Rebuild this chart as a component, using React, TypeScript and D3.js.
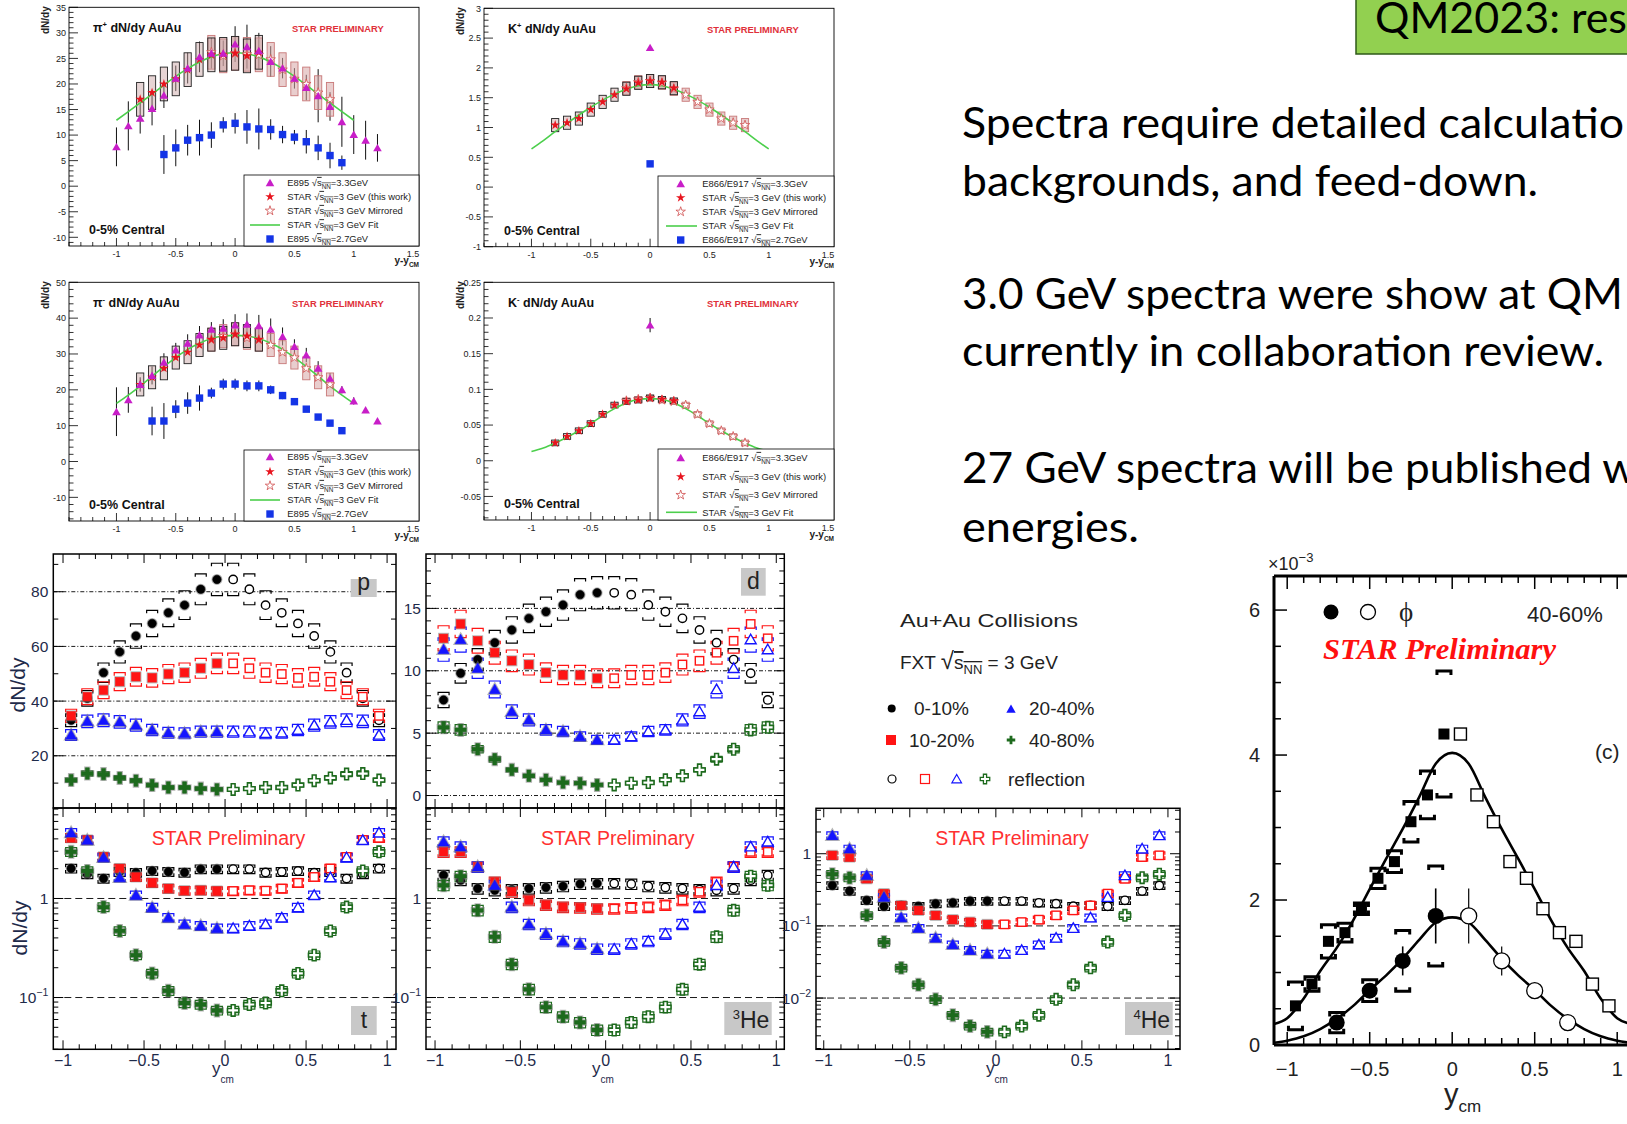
import React from "react";
import * as d3 from "d3";

const SANS = "'Liberation Sans', Arial, Helvetica, sans-serif";
const SERIF = "'Liberation Serif', 'Times New Roman', serif";
const SLIDE = "Lato, 'Open Sans', sans-serif";

// ================= top row (ROOT figures, 0-5% central) =================
const e33X = [-1.0, -0.9, -0.8, -0.7, -0.6, -0.5, -0.4, -0.3, -0.2, -0.1, 0.0, 0.1, 0.2, 0.3, 0.4, 0.5, 0.6, 0.7, 0.8, 0.9, 1.0, 1.1, 1.2];
const piPlusE895_33 = [7.7, 11.8, 13.3, 15.2, 17.8, 21.1, 23.1, 25.3, 26.0, 26.0, 27.8, 27.3, 26.5, 24.4, 23.1, 21.1, 19.3, 17.7, 15.6, 12.6, 10.1, 9.0, 7.5];
const piPlusE895_33Err = [3.8, 4.8, 3.0, 3.3, 2.5, 2.5, 3.0, 3.0, 3.0, 2.5, 3.5, 4.3, 3.5, 3.0, 2.0, 2.0, 2.5, 5.2, 2.8, 4.9, 3.8, 3.8, 2.7];
const piPlusE895_27X = [-0.6, -0.5, -0.4, -0.3, -0.2, -0.1, 0.0, 0.1, 0.2, 0.3, 0.4, 0.5, 0.6, 0.7, 0.8, 0.9];
const piPlusE895_27 = [6.2, 7.5, 9.0, 9.5, 10.0, 12.0, 12.3, 11.6, 11.2, 11.1, 10.1, 9.6, 8.7, 7.5, 6.0, 4.6];
const piPlusE895_27Err = [3.8, 3.6, 3.0, 3.5, 2.5, 1.5, 2.0, 3.3, 4.0, 2.0, 1.7, 1.4, 2.3, 2.4, 2.5, 1.4];
const piMinusE895_33 = [13.9, 17.2, 21.5, 24.0, 27.7, 31.1, 33.0, 35.3, 36.9, 37.2, 38.1, 38.3, 37.9, 36.9, 34.9, 32.1, 29.7, 26.0, 23.2, 20.0, 16.9, 14.4, 11.3];
const piMinusE895_33Err = [6.8, 3.6, 2.0, 2.5, 2.5, 2.0, 2.5, 2.5, 2.0, 2.5, 3.0, 3.0, 3.0, 3.0, 2.5, 2.0, 2.0, 2.0, 1.5, 1.0, 1.0, 0.5, 0.5];
const piMinusE895_27X = [-0.7, -0.6, -0.5, -0.4, -0.3, -0.2, -0.1, 0.0, 0.1, 0.2, 0.3, 0.4, 0.5, 0.6, 0.7, 0.8, 0.9];
const piMinusE895_27 = [11.3, 11.3, 14.6, 16.3, 17.7, 19.1, 21.6, 21.6, 21.1, 21.1, 20.0, 18.4, 16.7, 14.6, 12.4, 10.7, 8.6];
const piMinusE895_27Err = [4.0, 5.0, 2.5, 3.0, 3.5, 1.5, 1.5, 1.5, 1.5, 1.5, 1.2, 1.0, 0.8, 0.6, 0.5, 0.5, 0.5];
const kPlusE866_33X = [0.0];
const kPlusE866_33 = [2.34];
const kPlusE866_33Err = [0.0];
const kPlusE866_27X = [0.0];
const kPlusE866_27 = [0.39];
const kPlusE866_27Err = [0.0];
const kMinusE866_33X = [0.0];
const kMinusE866_33 = [0.19];
const kMinusE866_33Err = [0.01];

const starX = [-0.8, -0.7, -0.6, -0.5, -0.4, -0.3, -0.2, -0.1, 0.0, 0.1, 0.2];
const piPlusStar = [17.0, 18.3, 20.0, 21.0, 22.8, 24.8, 25.7, 25.8, 26.0, 25.5, 26.2];
const piMinusStar = [21.5, 23.5, 26.0, 29.0, 30.5, 32.5, 34.0, 34.5, 35.5, 35.0, 34.0];
const kPlusStar = [1.04, 1.08, 1.15, 1.30, 1.43, 1.55, 1.65, 1.75, 1.78, 1.76, 1.66];
const kMinusStar = [0.025, 0.034, 0.042, 0.052, 0.065, 0.078, 0.083, 0.085, 0.088, 0.086, 0.084];

const fitX = [-1.0, -0.9, -0.8, -0.7, -0.6, -0.5, -0.4, -0.3, -0.2, -0.1, 0.0, 0.1, 0.2, 0.3, 0.4, 0.5, 0.6, 0.7, 0.8, 0.9, 1.0];
const piPlusFit = [12.9, 14.6, 16.3, 18.0, 19.8, 21.5, 23.0, 24.3, 25.3, 25.9, 26.1, 25.9, 25.3, 24.3, 23.0, 21.5, 19.8, 18.0, 16.3, 14.6, 12.9];
const piMinusFit = [16.2, 18.5, 21.0, 23.8, 26.5, 29.0, 31.3, 33.0, 34.3, 35.0, 35.2, 35.0, 34.3, 33.0, 31.3, 29.0, 26.5, 23.8, 21.0, 18.5, 16.2];
const kPlusFit = [0.64, 0.78, 0.93, 1.07, 1.21, 1.34, 1.46, 1.56, 1.64, 1.70, 1.72, 1.70, 1.64, 1.56, 1.46, 1.34, 1.21, 1.07, 0.93, 0.78, 0.64];
const kMinusFit = [0.013, 0.018, 0.025, 0.033, 0.042, 0.052, 0.063, 0.073, 0.081, 0.086, 0.087, 0.086, 0.081, 0.073, 0.063, 0.052, 0.042, 0.033, 0.025, 0.018, 0.013];
const topXLabels = [-1, -0.5, 0, 0.5, 1, 1.5];

// ================= bottom row: light nuclei, FXT 3 GeV =================
const nucY = [-0.95, -0.85, -0.75, -0.65, -0.55, -0.45, -0.35, -0.25, -0.15, -0.05];
const p0_10 = [33.0, 41.0, 50.4, 58.0, 63.8, 68.4, 72.3, 75.1, 80.9, 84.5];
const p10_20 = [34.6, 41.6, 44.0, 47.1, 48.9, 48.5, 49.9, 50.4, 52.0, 53.8];
const p20_40 = [27.6, 32.6, 33.0, 32.4, 31.2, 29.4, 28.4, 28.2, 28.8, 28.8];
const p40_80 = [11.1, 13.5, 13.3, 11.9, 10.9, 9.3, 8.4, 8.4, 8.0, 7.7];
const d0_10 = [7.66, 9.8, 10.9, 12.25, 13.27, 14.2, 14.73, 15.27, 16.1, 16.25];
const d10_20 = [12.6, 13.75, 12.4, 11.45, 10.8, 10.5, 9.85, 9.66, 9.66, 9.4];
const d20_40 = [11.7, 12.5, 10.2, 8.5, 6.73, 6.06, 5.26, 5.13, 4.73, 4.46];
const d40_80 = [5.47, 5.26, 3.71, 2.91, 2.06, 1.58, 1.26, 1.04, 0.99, 0.85];
const t0_10 = [2.01, 1.76, 1.59, 1.86, 1.82, 1.90, 1.86, 1.83, 1.98, 1.98];
const t10_20 = [4.1, 3.9, 2.63, 2.01, 1.65, 1.44, 1.26, 1.20, 1.21, 1.19];
const t20_40 = [4.61, 3.88, 2.59, 1.63, 1.08, 0.81, 0.64, 0.55, 0.53, 0.50];
const t40_80 = [2.96, 1.90, 0.82, 0.47, 0.268, 0.175, 0.117, 0.088, 0.085, 0.074];
const he3_0_10 = [1.72, 1.53, 1.26, 1.21, 1.23, 1.26, 1.29, 1.33, 1.40, 1.42];
const he3_10_20 = [2.96, 2.96, 2.09, 1.47, 1.17, 0.96, 0.86, 0.82, 0.81, 0.79];
const he3_20_40 = [3.74, 3.33, 2.09, 1.36, 0.82, 0.55, 0.44, 0.37, 0.35, 0.31];
const he3_40_80 = [1.36, 1.68, 0.76, 0.41, 0.217, 0.121, 0.080, 0.064, 0.056, 0.047];
const he4_0_10 = [0.364, 0.304, 0.226, 0.187, 0.192, 0.187, 0.203, 0.209, 0.221, 0.221];
const he4_10_20 = [0.95, 0.90, 0.45, 0.28, 0.192, 0.164, 0.14, 0.122, 0.113, 0.105];
const he4_20_40 = [1.79, 1.17, 0.50, 0.25, 0.13, 0.093, 0.068, 0.055, 0.046, 0.041];
const he4_40_80 = [0.52, 0.465, 0.14, 0.0597, 0.0262, 0.0153, 0.0096, 0.0058, 0.0041, 0.0034];
const centralities = ["0-10%", "10-20%", "20-40%", "40-80%"];

// ================= right: phi, 40-60% =================
const phiSqX = [-0.95, -0.85, -0.75, -0.65, -0.55, -0.45, -0.35, -0.25, -0.15, -0.05];
const phiSq = [0.54, 0.84, 1.43, 1.55, 1.88, 2.30, 2.53, 3.08, 3.45, 4.29];
const phiSqSys = [0.33, 0.10, 0.23, 0.13, 0.08, 0.14, 0.15, 0.28, 0.33, 0.87];
const phiCircX = [-0.7, -0.5, -0.3, -0.1];
const phiCirc = [0.31, 0.75, 1.16, 1.78];
const phiCircErr = [0.08, 0.10, 0.20, 0.38];
const phiCircSys = [0.14, 0.15, 0.42, 0.69];
const phiCurveX = [-1.08, -1.0, -0.9, -0.8, -0.7, -0.6, -0.5, -0.4, -0.3, -0.2, -0.1, 0.0, 0.1, 0.2, 0.3, 0.4, 0.5, 0.6, 0.7, 0.8, 0.9, 1.0, 1.08];
const phiCurveUpper = [0.29, 0.37, 0.64, 1.02, 1.34, 1.72, 2.15, 2.57, 2.98, 3.42, 3.88, 4.03, 3.88, 3.42, 2.98, 2.57, 2.15, 1.72, 1.34, 1.02, 0.64, 0.37, 0.29];
const phiCurveLower = [0.03, 0.06, 0.12, 0.22, 0.36, 0.54, 0.76, 0.96, 1.19, 1.45, 1.69, 1.76, 1.69, 1.45, 1.19, 0.96, 0.76, 0.54, 0.36, 0.22, 0.12, 0.06, 0.03];

// ================= slide text =================
const slideLines = [
  "Spectra require detailed calculatio",
  "backgrounds, and feed-down.",
  "3.0 GeV spectra were show at QM",
  "currently in collaboration review.",
  "27 GeV spectra will be published w",
  "energies.",
];

// ---------------- helpers ----------------
function tickVals(lo: number, hi: number, step: number) {
  const out: number[] = [];
  for (let i = Math.ceil(lo / step - 1e-9); i <= Math.floor(hi / step + 1e-9); i++) out.push(Math.round(i * step * 1e6) / 1e6);
  return out;
}
const sym = (type: any, size: number) => d3.symbol(type, size)() as string;
const fmtNum = (v: number) => String(v);
const uMinus = (s: string) => s.replace("-", "\u2212");

const TOP_XDOM = [-1.4, 1.55];

function SqrtS({ fs }: { fs: number }) {
  return (
    <>
      <tspan>√</tspan>
      <tspan style={{ textDecoration: "overline" }}>s</tspan>
      <tspan dy={fs * 0.28} fontSize={fs * 0.68} style={{ textDecoration: "overline" }}>NN</tspan>
    </>
  );
}

function TopMarker({ kind, x, y }: any) {
  if (kind === "tri") return <path transform={`translate(${x},${y + 1})`} d={sym(d3.symbolTriangle, 32)} fill="#c81ec8" />;
  if (kind === "sq") return <rect x={x - 3.7} y={y - 3.7} width={7.4} height={7.4} fill="#1434e6" />;
  if (kind === "star") return <path transform={`translate(${x},${y})`} d={sym(d3.symbolStar, 28)} fill="#e8141e" />;
  if (kind === "ostar") return <path transform={`translate(${x},${y})`} d={sym(d3.symbolStar, 28)} fill="#fff" stroke="#d05050" strokeWidth={0.8} />;
  return null;
}

function TopPanel({ c }: any) {
  const [x0, y0, x1, y1] = c.frame;
  const xs = d3.scaleLinear().domain(TOP_XDOM).range([x0, x1]);
  const ys = d3.scaleLinear().domain(c.yDom).range([y1, y0]);
  const yMaj = tickVals(c.yDom[0], c.yDom[1], c.yMajor);
  const yMin = tickVals(c.yDom[0], c.yDom[1], c.yMinor);
  const xMaj = tickVals(TOP_XDOM[0], TOP_XDOM[1], 0.5);
  const xMin = tickVals(TOP_XDOM[0], TOP_XDOM[1], 0.1);
  const fitPath = d3
    .line<number>()
    .x((_, i) => xs(fitX[i]))
    .y((v) => ys(v))
    .curve(d3.curveMonotoneX)(c.fit) as string;
  const [lx, ly] = c.leg;
  const fs = 9.4;
  const legendText: any = {
    tri: [c.exp + " ", "=3.3GeV"],
    star: ["STAR ", "=3 GeV (this work)"],
    ostar: ["STAR ", "=3 GeV Mirrored"],
    line: ["STAR ", "=3 GeV Fit"],
    sq: [c.exp + " ", "=2.7GeV"],
  };
  const bw = 3.6;
  return (
    <g fontFamily={SANS}>
      <rect x={x0} y={y0} width={x1 - x0} height={y1 - y0} fill="#fff" stroke="#000" strokeWidth={0.9} />
      {yMin.map((v) => (
        <line key={"ym" + v} x1={x0} x2={x0 + (yMaj.includes(v) ? 9 : 4.5)} y1={ys(v)} y2={ys(v)} stroke="#000" strokeWidth={0.8} />
      ))}
      {xMin.map((v) => (
        <line key={"xm" + v} x1={xs(v)} x2={xs(v)} y1={y1} y2={y1 - (xMaj.includes(v) ? 8 : 4)} stroke="#000" strokeWidth={0.8} />
      ))}
      {yMaj.map((v) => (
        <text key={"yl" + v} x={x0 - 3} y={ys(v) + 3.2} textAnchor="end" fontSize={9} fill="#222">
          {fmtNum(v)}
        </text>
      ))}
      {topXLabels.map((v) => (
        <text key={"xl" + v} x={xs(v)} y={y1 + 11} textAnchor="middle" fontSize={9} fill="#222">
          {fmtNum(v)}
        </text>
      ))}
      <text x={x1} y={y1 + 18} textAnchor="end" fontSize={10} fontWeight="bold" fill="#222">
        y-y<tspan dy={3} fontSize={6.5}>CM</tspan>
      </text>
      <text transform={`translate(${x0 - 20},${y0 - 1}) rotate(-90)`} textAnchor="end" fontSize={10} fontWeight="bold" fill="#222">
        dN/dy
      </text>
      {c.e33.x.map((x: number, i: number) => (
        <line key={"e33e" + i} x1={xs(x)} x2={xs(x)} y1={ys(c.e33.y[i] - c.e33.err[i])} y2={ys(c.e33.y[i] + c.e33.err[i])} stroke="#111" strokeWidth={1} />
      ))}
      {c.e27 &&
        c.e27.x.map((x: number, i: number) => (
          <line key={"e27e" + i} x1={xs(x)} x2={xs(x)} y1={ys(c.e27.y[i] - c.e27.err[i])} y2={ys(c.e27.y[i] + c.e27.err[i])} stroke="#111" strokeWidth={1} />
        ))}
      {starX.map((x, i) => (
        <rect key={"bm" + i} x={xs(-x) - bw} y={ys(c.star[i] + c.sys)} width={2 * bw} height={ys(c.star[i] - c.sys) - ys(c.star[i] + c.sys)} fill="rgba(215,165,165,0.55)" stroke="#c87878" strokeWidth={0.9} />
      ))}
      {starX.map((x, i) => (
        <rect key={"bs" + i} x={xs(x) - bw} y={ys(c.star[i] + c.sys)} width={2 * bw} height={ys(c.star[i] - c.sys) - ys(c.star[i] + c.sys)} fill="rgba(200,160,160,0.45)" stroke="#222" strokeWidth={0.9} />
      ))}
      <path d={fitPath} fill="none" stroke="#4ccf4c" strokeWidth={1.6} />
      {c.e27 && c.e27.x.map((x: number, i: number) => <TopMarker key={"e27" + i} kind="sq" x={xs(x)} y={ys(c.e27.y[i])} />)}
      {starX.map((x, i) => <TopMarker key={"om" + i} kind="ostar" x={xs(-x)} y={ys(c.star[i])} />)}
      {starX.map((x, i) => <TopMarker key={"st" + i} kind="star" x={xs(x)} y={ys(c.star[i])} />)}
      {c.e33.x.map((x: number, i: number) => <TopMarker key={"e33" + i} kind="tri" x={xs(x)} y={ys(c.e33.y[i])} />)}
      <text x={x0 + 24} y={y0 + 25} fontSize={12.5} fontWeight="bold" fill="#111">
        {c.part}
        <tspan dy={-5} fontSize={7.5}>{c.charge}</tspan>
        <tspan dy={5}> dN/dy AuAu</tspan>
      </text>
      <text x={x0 + 223} y={y0 + 25} fontSize={9.4} fontWeight="bold" fill="#e0303a">
        STAR PRELIMINARY
      </text>
      <text x={x0 + 20} y={y1 - 12} fontSize={12.5} fontWeight="bold" fill="#111">
        0-5% Central
      </text>
      <rect x={lx} y={ly} width={x1 - lx} height={y1 - ly} fill="#fff" stroke="#000" strokeWidth={0.8} />
      {c.rows.map((kind: string, i: number) => {
        const ry = c.rowsY[i];
        const [pre, post] = legendText[kind];
        return (
          <g key={"lg" + i}>
            {kind === "line" ? (
              <line x1={c.lineX[0]} x2={c.lineX[1]} y1={ry} y2={ry} stroke="#4ccf4c" strokeWidth={1.6} />
            ) : (
              <TopMarker kind={kind} x={c.symX} y={ry} />
            )}
            <text x={c.txtX} y={ry + 3.2} fontSize={fs} fill="#222">
              {pre}
              <SqrtS fs={fs} />
              <tspan dy={-fs * 0.28}>{post}</tspan>
            </text>
          </g>
        );
      })}
    </g>
  );
}

const topCfgs = [
  {
    frame: [69, 7.3, 419, 246], yDom: [-11.7, 35], yMajor: 5, yMinor: 1, part: "π", charge: "+", exp: "E895",
    e33: { x: e33X, y: piPlusE895_33, err: piPlusE895_33Err }, e27: { x: piPlusE895_27X, y: piPlusE895_27, err: piPlusE895_27Err },
    star: piPlusStar, sys: 3.3, fit: piPlusFit, leg: [244, 175], rows: ["tri", "star", "ostar", "line", "sq"],
    rowsY: [182.7, 196.7, 210.7, 225, 239], symX: 270, txtX: 287.3, lineX: [250, 280],
  },
  {
    frame: [484, 8.3, 834, 246.7], yDom: [-1, 3], yMajor: 0.5, yMinor: 0.1, part: "K", charge: "+", exp: "E866/E917",
    e33: { x: kPlusE866_33X, y: kPlusE866_33, err: kPlusE866_33Err }, e27: { x: kPlusE866_27X, y: kPlusE866_27, err: kPlusE866_27Err },
    star: kPlusStar, sys: 0.11, fit: kPlusFit, leg: [658, 176], rows: ["tri", "star", "ostar", "line", "sq"],
    rowsY: [183.7, 197.7, 211.7, 226, 240], symX: 680.7, txtX: 702.3, lineX: [666, 697],
  },
  {
    frame: [69, 282.3, 419, 521], yDom: [-16.6, 50], yMajor: 10, yMinor: 2, part: "π", charge: "-", exp: "E895",
    e33: { x: e33X, y: piMinusE895_33, err: piMinusE895_33Err }, e27: { x: piMinusE895_27X, y: piMinusE895_27, err: piMinusE895_27Err },
    star: piMinusStar, sys: 3.2, fit: piMinusFit, leg: [244, 450], rows: ["tri", "star", "ostar", "line", "sq"],
    rowsY: [456.7, 471.7, 485.7, 500, 514], symX: 270, txtX: 287.3, lineX: [250, 280],
  },
  {
    frame: [484, 282.3, 834, 520], yDom: [-0.083, 0.25], yMajor: 0.05, yMinor: 0.01, part: "K", charge: "-", exp: "E866/E917",
    e33: { x: kMinusE866_33X, y: kMinusE866_33, err: kMinusE866_33Err }, e27: null,
    star: kMinusStar, sys: 0.004, fit: kMinusFit, leg: [658, 449], rows: ["tri", "star", "ostar", "line"],
    rowsY: [457.7, 476.7, 495, 512.3], symX: 680.7, txtX: 702.3, lineX: [666, 697],
  },
];

// ---------------- bottom panels ----------------
const NUC_COLORS = ["#000000", "#ff1414", "#1414ff", "#1d6a1d"];
const NUC_SHAPES = ["circle", "square", "triangle", "cross"];

function NucMarker({ shape, filled, color, x, y }: any) {
  const fill = filled ? color : "#fff";
  const sw = filled ? 0.6 : 1.4;
  const halo = filled ? { stroke: "rgba(120,120,120,0.55)", strokeWidth: 2.6 } : null;
  if (shape === "circle")
    return (
      <g>
        {halo && <circle cx={x} cy={y} r={4.2} fill="none" {...halo} />}
        <circle cx={x} cy={y} r={4.2} fill={fill} stroke={color} strokeWidth={sw} />
      </g>
    );
  if (shape === "square")
    return (
      <g>
        {halo && <rect x={x - 4.2} y={y - 4.2} width={8.4} height={8.4} fill="none" {...halo} />}
        <rect x={x - 4.2} y={y - 4.2} width={8.4} height={8.4} fill={fill} stroke={color} strokeWidth={sw} />
      </g>
    );
  const d = shape === "triangle" ? sym(d3.symbolTriangle, 52) : sym(d3.symbolCross, 72);
  const tf = shape === "triangle" ? `translate(${x},${y + 1})` : `translate(${x},${y})`;
  return (
    <g transform={tf}>
      {halo && <path d={d} fill="none" {...halo} />}
      <path d={d} fill={fill} stroke={color} strokeWidth={shape === "cross" && !filled ? 1.6 : sw} />
    </g>
  );
}

function Bracket({ x, yt, yb, color }: any) {
  const w = 5.5, h = 3;
  return (
    <path d={`M${x - w},${yt + h}V${yt}H${x + w}V${yt + h}M${x - w},${yb - h}V${yb}H${x + w}V${yb - h}`} fill="none" stroke={color} strokeWidth={1.2} />
  );
}

function BottomPanel({ c }: any) {
  const [x0, y0, x1, y1] = c.frame;
  const xs = d3.scaleLinear().domain(c.xDom).range([x0, x1]);
  const ys: any = c.log ? d3.scaleLog().domain(c.yDom).range([y1, y0]) : d3.scaleLinear().domain(c.yDom).range([y1, y0]);
  let yMaj: number[] = [];
  let yMin: number[] = [];
  if (c.log) {
    for (let k = Math.floor(Math.log10(c.yDom[0])); k <= Math.ceil(Math.log10(c.yDom[1])); k++) {
      for (let m = 1; m <= 9; m++) {
        const v = m * Math.pow(10, k);
        if (v >= c.yDom[0] && v <= c.yDom[1]) (m === 1 ? yMaj : yMin).push(v);
      }
    }
  } else {
    yMaj = tickVals(c.yDom[0], c.yDom[1], c.yMajor);
    yMin = tickVals(c.yDom[0], c.yDom[1], c.yMinor).filter((v) => !yMaj.includes(v));
  }
  const xMaj = tickVals(-1, 1, 0.5);
  const xMin = tickVals(c.xDom[0], c.xDom[1], 0.1).filter((v) => !xMaj.includes(v));
  const tk = (v: number, len: number, key: string) => (
    <g key={key}>
      <line x1={x0} x2={x0 + len} y1={ys(v)} y2={ys(v)} stroke="#000" strokeWidth={1} />
      <line x1={x1} x2={x1 - len} y1={ys(v)} y2={ys(v)} stroke="#000" strokeWidth={1} />
    </g>
  );
  const tx = (v: number, len: number, key: string) => (
    <g key={key}>
      <line x1={xs(v)} x2={xs(v)} y1={y1} y2={y1 - len} stroke="#000" strokeWidth={1} />
      <line x1={xs(v)} x2={xs(v)} y1={y0} y2={y0 + len} stroke="#000" strokeWidth={1} />
    </g>
  );
  const [bx0, by0, bx1, by1] = c.tagBox;
  return (
    <g fontFamily={SANS}>
      {c.grid.map((v: number) => (
        <line key={"g" + v} x1={x0} x2={x1} y1={ys(v)} y2={ys(v)} stroke="#000" strokeWidth={0.9} strokeDasharray={c.log ? "7,4" : "4,2,1,2"} />
      ))}
      {yMaj.map((v) => tk(v, 10, "yM" + v))}
      {yMin.map((v) => tk(v, 5, "ym" + v))}
      {xMaj.map((v) => tx(v, 9, "xM" + v))}
      {xMin.map((v) => tx(v, 5, "xm" + v))}
      {c.labels.map((l: any) => (
        <text key={"l" + l.v} x={x0 - 5} y={ys(l.v) + 5.5} textAnchor="end" fontSize={15.5} fill="#1e2a4a">
          {l.t}
          {l.sup && (
            <tspan dy={-7} fontSize={10.5}>
              {l.sup}
            </tspan>
          )}
        </text>
      ))}
      {c.xLabels &&
        xMaj.map((v) => (
          <text key={"xl" + v} x={xs(v)} y={y1 + 17} textAnchor="middle" fontSize={16} fill="#1e2a4a">
            {uMinus(fmtNum(v))}
          </text>
        ))}
      {c.xLabels && (
        <text x={c.ycmX} y={y1 + 25} fontSize={17} fill="#1e2a4a">
          y<tspan dy={9} fontSize={10}>cm</tspan>
        </text>
      )}
      <rect x={bx0} y={by0} width={bx1 - bx0} height={by1 - by0} fill="#c8c8c8" />
      <text x={(bx0 + bx1) / 2 + (c.tagSup ? 3 : 0)} y={by1 - 7} textAnchor="middle" fontSize={23} fill="#222">
        {c.tagSup && (
          <tspan dy={-9} fontSize={13}>
            {c.tagSup}
          </tspan>
        )}
        <tspan dy={c.tagSup ? 9 : 0}>{c.tag}</tspan>
      </text>
      {c.prelimX && (
        <text x={c.prelimX} y={y0 + 37} textAnchor="middle" fontSize={19.5} fill="#ff3030">
          STAR Preliminary
        </text>
      )}
      {c.series.map((vals: number[], si: number) =>
        nucY.map((x, i) => (
          <g key={"br" + si + "_" + i}>
            <Bracket x={xs(x)} yt={ys(vals[i] * (1 + c.sys))} yb={ys(vals[i] * (1 - c.sys))} color={NUC_COLORS[si]} />
            <Bracket x={xs(-x)} yt={ys(vals[i] * (1 + c.sys))} yb={ys(vals[i] * (1 - c.sys))} color={NUC_COLORS[si]} />
          </g>
        ))
      )}
      {c.series.map((vals: number[], si: number) =>
        nucY.map((x, i) => (
          <g key={"mk" + si + "_" + i}>
            <NucMarker shape={NUC_SHAPES[si]} filled color={NUC_COLORS[si]} x={xs(x)} y={ys(vals[i])} />
            <NucMarker shape={NUC_SHAPES[si]} filled={false} color={NUC_COLORS[si]} x={xs(-x)} y={ys(vals[i])} />
          </g>
        ))
      )}
      <rect x={x0} y={y0} width={x1 - x0} height={y1 - y0} fill="none" stroke="#000" strokeWidth={1.5} />
    </g>
  );
}

const logLabels13 = [
  { v: 1, t: "1" },
  { v: 0.1, t: "10", sup: "\u22121" },
];
const bottomCfgs = [
  {
    frame: [53.3, 554, 396, 808], xDom: [-1.06, 1.055], log: false, yDom: [0.9, 93.8], yMajor: 20, yMinor: 10, grid: [20, 40, 60, 80],
    labels: [20, 40, 60, 80].map((v) => ({ v, t: String(v) })), series: [p0_10, p10_20, p20_40, p40_80], sys: 0.07,
    tag: "p", tagBox: [350.7, 579, 376.7, 597], xLabels: false,
  },
  {
    frame: [426, 554, 784.3, 808], xDom: [-1.053, 1.047], log: false, yDom: [-1.0, 19.36], yMajor: 5, yMinor: 1, grid: [0, 5, 10, 15],
    labels: [0, 5, 10, 15].map((v) => ({ v, t: String(v) })), series: [d0_10, d10_20, d20_40, d40_80], sys: 0.08,
    tag: "d", tagBox: [741, 568, 765.7, 595.7], xLabels: false,
  },
  {
    frame: [53.3, 808, 396, 1049.3], xDom: [-1.06, 1.055], log: true, yDom: [0.03, 8.2], grid: [1, 0.1],
    labels: logLabels13, series: [t0_10, t10_20, t20_40, t40_80], sys: 0.1,
    tag: "t", tagBox: [351, 1006, 376.7, 1035], xLabels: true, prelimX: 228.5, ycmX: 212,
  },
  {
    frame: [426, 808, 784.3, 1049.3], xDom: [-1.053, 1.047], log: true, yDom: [0.03, 8.2], grid: [1, 0.1],
    labels: logLabels13, series: [he3_0_10, he3_10_20, he3_20_40, he3_40_80], sys: 0.12,
    tag: "He", tagSup: "3", tagBox: [724.3, 1002, 771.7, 1035], xLabels: true, prelimX: 617.8, ycmX: 592,
  },
  {
    frame: [816, 808.3, 1180, 1049.3], xDom: [-1.045, 1.07], log: true, yDom: [0.00195, 4.26], grid: [0.1, 0.01],
    labels: [{ v: 1, t: "1" }, { v: 0.1, t: "10", sup: "\u22121" }, { v: 0.01, t: "10", sup: "\u22122" }],
    series: [he4_0_10, he4_10_20, he4_20_40, he4_40_80], sys: 0.12,
    tag: "He", tagSup: "4", tagBox: [1125, 1002, 1172.7, 1035], xLabels: true, prelimX: 1012, ycmX: 986,
  },
];

function BottomLegend() {
  const fs = 19;
  return (
    <g fontFamily={SANS} fill="#222">
      <text x={900} y={627} fontSize={fs} textLength={178} lengthAdjust="spacingAndGlyphs">Au+Au Collisions</text>
      <text x={900} y={669} fontSize={fs}>
        FXT <tspan fontSize={24}>√</tspan>
        <tspan style={{ textDecoration: "overline" }}>s</tspan>
        <tspan dy={5} fontSize={13} style={{ textDecoration: "overline" }}>NN</tspan>
        <tspan dy={-5}> = 3 GeV</tspan>
      </text>
      <circle cx={891.7} cy={708.5} r={4} fill="#000" />
      <text x={914} y={715} fontSize={fs}>{centralities[0]}</text>
      <path transform="translate(1011,710)" d={sym(d3.symbolTriangle, 38)} fill="#1414ff" />
      <text x={1029} y={715} fontSize={fs}>{centralities[2]}</text>
      <rect x={886} y={735} width={10} height={10} fill="#ff1414" />
      <text x={909} y={747} fontSize={fs}>{centralities[1]}</text>
      <path transform="translate(1011,740)" d={sym(d3.symbolCross, 40)} fill="#1d6a1d" />
      <text x={1029} y={747} fontSize={fs}>{centralities[3]}</text>
      <circle cx={892} cy={779} r={4} fill="#fff" stroke="#000" strokeWidth={1.2} />
      <rect x={920.5} y={774.5} width={9} height={9} fill="#fff" stroke="#ff1414" strokeWidth={1.2} />
      <path transform="translate(956.7,780)" d={sym(d3.symbolTriangle, 40)} fill="#fff" stroke="#1414ff" strokeWidth={1.2} />
      <path transform="translate(985,779)" d={sym(d3.symbolCross, 50)} fill="#fff" stroke="#1d6a1d" strokeWidth={1.3} />
      <text x={1008} y={786} fontSize={fs}>reflection</text>
    </g>
  );
}

function PhiPanel() {
  const x0 = 1274, y0 = 576, y1 = 1045;
  const xs = d3.scaleLinear().domain([-1.08, 1.08]).range([x0, x0 + 2.16 * 165]);
  const ys = d3.scaleLinear().domain([0, 6.47]).range([y1, y0]);
  const x1 = xs(1.08);
  const yMaj = tickVals(0, 6, 2);
  const yMin = tickVals(0, 6.47, 0.5).filter((v) => !yMaj.includes(v));
  const xMaj = tickVals(-1, 1, 0.5);
  const xMin = tickVals(-1.08, 1.08, 0.1).filter((v) => !xMaj.includes(v));
  const curve = (vals: number[]) =>
    d3
      .line<number>()
      .x((_, i) => xs(phiCurveX[i]))
      .y((v) => ys(v))
      .curve(d3.curveMonotoneX)(vals) as string;
  const br = (x: number, yt: number, yb: number, key: string) => {
    const w = 7, h = 4;
    return (
      <path key={key} d={`M${x - w},${yt + h}V${yt}H${x + w}V${yt + h}M${x - w},${yb - h}V${yb}H${x + w}V${yb - h}`} fill="none" stroke="#000" strokeWidth={3} />
    );
  };
  return (
    <g fontFamily={SANS} fill="#222">
      <defs>
        <clipPath id="phiclip">
          <rect x={x0} y={y0} width={x1 - x0} height={y1 - y0} />
        </clipPath>
      </defs>
      {yMaj.map((v) => <line key={"yM" + v} x1={x0} x2={x0 + 13} y1={ys(v)} y2={ys(v)} stroke="#000" strokeWidth={1.5} />)}
      {yMin.map((v) => <line key={"ym" + v} x1={x0} x2={x0 + 7} y1={ys(v)} y2={ys(v)} stroke="#000" strokeWidth={1.5} />)}
      {xMaj.map((v) => (
        <g key={"xM" + v}>
          <line x1={xs(v)} x2={xs(v)} y1={y1} y2={y1 - 13} stroke="#000" strokeWidth={1.5} />
          <line x1={xs(v)} x2={xs(v)} y1={y0} y2={y0 + 13} stroke="#000" strokeWidth={1.5} />
        </g>
      ))}
      {xMin.map((v) => (
        <g key={"xm" + v}>
          <line x1={xs(v)} x2={xs(v)} y1={y1} y2={y1 - 7} stroke="#000" strokeWidth={1.5} />
          <line x1={xs(v)} x2={xs(v)} y1={y0} y2={y0 + 7} stroke="#000" strokeWidth={1.5} />
        </g>
      ))}
      {yMaj.map((v) => (
        <text key={"yl" + v} x={x0 - 14} y={ys(v) + 7} textAnchor="end" fontSize={20}>{String(v)}</text>
      ))}
      {xMaj.map((v) => (
        <text key={"xl" + v} x={xs(v)} y={y1 + 31} textAnchor="middle" fontSize={20}>{uMinus(String(v))}</text>
      ))}
      <text x={1268} y={570} fontSize={18}>
        ×10<tspan dy={-8} fontSize={13}>−3</tspan>
      </text>
      <text x={1444} y={1104} fontSize={29}>
        y<tspan dy={8} fontSize={17}>cm</tspan>
      </text>
      <g clipPath="url(#phiclip)">
        <path d={curve(phiCurveUpper)} fill="none" stroke="#000" strokeWidth={2.6} />
        <path d={curve(phiCurveLower)} fill="none" stroke="#000" strokeWidth={2.6} />
      </g>
      {phiSqX.map((x, i) => br(xs(x), ys(phiSq[i] + phiSqSys[i]), ys(phiSq[i] - phiSqSys[i]), "sb" + i))}
      {phiCircX.map((x, i) => br(xs(x), ys(phiCirc[i] + phiCircSys[i]), ys(phiCirc[i] - phiCircSys[i]), "cb" + i))}
      {phiCircX.map((x, i) => (
        <g key={"ce" + i}>
          <line x1={xs(x)} x2={xs(x)} y1={ys(phiCirc[i] - phiCircErr[i])} y2={ys(phiCirc[i] + phiCircErr[i])} stroke="#000" strokeWidth={1.6} />
          <line x1={xs(-x)} x2={xs(-x)} y1={ys(phiCirc[i] - phiCircErr[i])} y2={ys(phiCirc[i] + phiCircErr[i])} stroke="#000" strokeWidth={1.2} />
        </g>
      ))}
      {phiSqX.map((x, i) => (
        <g key={"sq" + i}>
          <rect x={xs(x) - 5.5} y={ys(phiSq[i]) - 5.5} width={11} height={11} fill="#000" />
          <rect x={xs(-x) - 6} y={ys(phiSq[i]) - 6} width={12} height={12} fill="#fff" stroke="#000" strokeWidth={1.4} />
        </g>
      ))}
      {phiCircX.map((x, i) => (
        <g key={"ci" + i}>
          <circle cx={xs(x)} cy={ys(phiCirc[i])} r={8} fill="#000" />
          <circle cx={xs(-x)} cy={ys(phiCirc[i])} r={8} fill="#fff" stroke="#000" strokeWidth={1.3} />
        </g>
      ))}
      <line x1={x0} x2={x0} y1={y0} y2={y1} stroke="#000" strokeWidth={3} />
      <line x1={x0} x2={1640} y1={y0} y2={y0} stroke="#000" strokeWidth={3} />
      <line x1={x0} x2={1640} y1={y1} y2={y1} stroke="#000" strokeWidth={3} />
      <circle cx={1331} cy={612} r={7.5} fill="#000" />
      <circle cx={1368} cy={612} r={7.5} fill="#fff" stroke="#000" strokeWidth={1.3} />
      <text x={1406} y={621} textAnchor="middle" fontSize={27} fontFamily={SERIF}>ϕ</text>
      <text x={1527} y={622} fontSize={22}>40-60%</text>
      <text x={1323} y={659} fontSize={29} fontFamily={SERIF} fontWeight="bold" fontStyle="italic" fill="#ff1010" textLength={233} lengthAdjust="spacingAndGlyphs">
        STAR Preliminary
      </text>
      <text x={1595} y={759} fontSize={21}>(c)</text>
    </g>
  );
}

function SlideText() {
  const baselines = [137.6, 195.7, 308.8, 366, 483, 542.3];
  const lengths = [662, 576, 661, 642, 675, 177];
  return (
    <g fontFamily={SLIDE} fill="#000">
      <rect x={1356} y={-3} width={300} height={57} fill="#92d050" stroke="#2e5a18" strokeWidth={1.5} />
      <text x={1375} y={33} fontSize={43} textLength={252} lengthAdjust="spacingAndGlyphs">QM2023: res</text>
      {slideLines.map((s, i) => (
        <text key={i} x={962} y={baselines[i]} fontSize={43} textLength={lengths[i]} lengthAdjust="spacingAndGlyphs">
          {s}
        </text>
      ))}
    </g>
  );
}

export default function App() {
  return (
    <svg width={1627} height={1124} style={{ position: "absolute", left: 0, top: 0, display: "block" }}>
      <rect x={0} y={0} width={1627} height={1124} fill="#fff" />
      {topCfgs.map((c, i) => (
        <TopPanel key={"tp" + i} c={c} />
      ))}
      {bottomCfgs.map((c, i) => (
        <BottomPanel key={"bp" + i} c={c} />
      ))}
      <text transform="translate(25,685) rotate(-90)" textAnchor="middle" fontSize={21} fontFamily={SANS} fill="#1e2a4a">dN/dy</text>
      <text transform="translate(27,928) rotate(-90)" textAnchor="middle" fontSize={21} fontFamily={SANS} fill="#1e2a4a">dN/dy</text>
      <BottomLegend />
      <PhiPanel />
      <SlideText />
    </svg>
  );
}
